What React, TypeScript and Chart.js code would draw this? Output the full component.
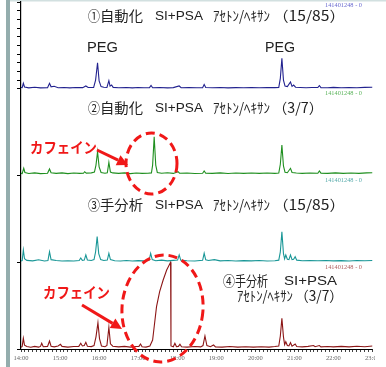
import React, { useEffect, useRef } from "react";
import { Chart, registerables } from "chart.js";

Chart.register(...registerables);

// ---- Data (retention time in minutes, signal in % of one trace band) ----
const hourLabels = ["14:00", "15:00", "16:00", "17:00", "18:00", "19:00", "20:00", "21:00", "22:00", "23:00"];

const autoA_time = [14.0, 14.03, 14.06, 14.09, 14.2, 14.35, 14.5, 14.68, 14.73, 14.77, 14.85, 14.95, 15.1, 15.25, 15.4, 15.58, 15.66, 15.72, 15.86, 15.91, 15.96, 16.0, 16.05, 16.12, 16.2, 16.25, 16.28, 16.32, 16.36, 16.5, 16.7, 16.85, 17.0, 17.15, 17.29, 17.33, 17.37, 17.55, 17.75, 17.9, 18.05, 18.1, 18.3, 18.5, 18.65, 18.69, 18.73, 18.9, 19.1, 19.3, 19.5, 19.7, 19.9, 20.1, 20.3, 20.5, 20.6, 20.64, 20.68, 20.72, 20.76, 20.82, 20.9, 20.94, 20.98, 21.03, 21.15, 21.3, 21.45, 21.6, 21.64, 21.68, 21.85, 22.0, 22.2, 22.4, 22.6, 22.8, 23.0];
const autoA_signal = [1.5, 1.2, 6.3, 2.0, 1.0, 1.8, 1.0, 1.2, 6.3, 2.2, 2.8, 1.2, 1.5, 1.0, 1.4, 1.3, 3.2, 1.5, 1.6, 10.0, 30.0, 9.0, 2.5, 1.8, 1.5, 9.3, 3.0, 4.3, 1.6, 1.2, 1.5, 1.0, 1.4, 1.2, 1.3, 3.7, 1.2, 1.4, 1.0, 1.3, 3.2, 1.2, 1.5, 1.1, 1.3, 4.9, 1.5, 1.2, 1.4, 1.0, 1.3, 1.1, 1.4, 1.2, 1.5, 1.3, 1.6, 12.0, 35.1, 10.0, 3.0, 2.5, 7.8, 2.8, 4.3, 1.8, 1.5, 1.2, 1.5, 1.4, 3.7, 1.3, 1.2, 1.6, 1.2, 1.5, 1.1, 1.6, 1.8];

const autoB_time = [14.0, 14.03, 14.07, 14.1, 14.2, 14.35, 14.5, 14.68, 14.73, 14.77, 14.9, 15.05, 15.2, 15.35, 15.5, 15.6, 15.63, 15.67, 15.8, 15.88, 15.92, 15.96, 16.0, 16.05, 16.15, 16.21, 16.25, 16.29, 16.35, 16.5, 16.65, 16.8, 16.95, 17.1, 17.25, 17.34, 17.37, 17.41, 17.45, 17.49, 17.6, 17.75, 17.9, 18.02, 18.06, 18.25, 18.45, 18.65, 18.69, 18.73, 18.9, 19.1, 19.3, 19.5, 19.7, 19.9, 20.1, 20.3, 20.5, 20.6, 20.64, 20.68, 20.72, 20.76, 20.82, 20.9, 20.94, 21.05, 21.2, 21.4, 21.6, 21.64, 21.68, 21.85, 22.05, 22.25, 22.45, 22.65, 22.85, 23.0];
const autoB_signal = [2.5, 2.2, 8.3, 3.5, 2.3, 3.0, 2.2, 2.5, 7.5, 3.2, 2.4, 3.0, 2.2, 2.8, 2.4, 2.6, 4.4, 2.8, 3.0, 4.0, 12.0, 27.4, 10.0, 3.5, 2.6, 3.2, 15.2, 4.0, 3.0, 2.4, 3.0, 2.2, 2.8, 2.4, 2.6, 3.0, 12.0, 44.7, 12.0, 3.5, 2.6, 3.2, 2.4, 4.4, 2.6, 2.8, 2.3, 2.6, 5.2, 2.6, 2.4, 3.0, 2.3, 2.8, 2.4, 2.9, 2.4, 2.8, 2.5, 2.9, 13.0, 35.2, 11.0, 3.8, 3.2, 8.3, 3.5, 2.8, 2.5, 2.8, 2.6, 5.2, 2.7, 2.5, 3.0, 2.4, 2.9, 2.5, 3.0, 3.2];

const manualA_time = [14.0, 14.03, 14.06, 14.09, 14.15, 14.3, 14.45, 14.6, 14.69, 14.73, 14.77, 14.9, 15.05, 15.2, 15.35, 15.49, 15.53, 15.57, 15.62, 15.66, 15.7, 15.8, 15.87, 15.91, 15.95, 15.99, 16.04, 16.12, 16.21, 16.25, 16.29, 16.4, 16.55, 16.7, 16.85, 17.0, 17.15, 17.28, 17.32, 17.36, 17.45, 17.6, 17.75, 17.9, 18.01, 18.05, 18.09, 18.25, 18.45, 18.65, 18.69, 18.73, 18.8, 18.95, 19.1, 19.3, 19.5, 19.7, 19.9, 20.1, 20.3, 20.5, 20.6, 20.64, 20.68, 20.72, 20.75, 20.78, 20.82, 20.86, 20.9, 20.94, 20.98, 21.02, 21.06, 21.2, 21.4, 21.6, 21.8, 22.0, 22.2, 22.4, 22.6, 22.8, 23.0];
const manualA_signal = [1.5, 2.0, 14.1, 4.0, 2.2, 1.6, 2.8, 1.5, 2.0, 12.2, 3.0, 2.0, 1.5, 1.8, 1.4, 2.0, 4.9, 2.2, 2.5, 8.4, 2.6, 2.0, 3.0, 12.0, 29.5, 10.0, 3.0, 2.0, 2.5, 10.3, 3.0, 1.8, 1.5, 2.0, 1.5, 1.9, 1.6, 2.2, 10.3, 3.0, 1.8, 2.4, 1.6, 2.2, 2.5, 8.4, 2.4, 1.8, 1.5, 2.2, 10.3, 2.8, 2.0, 3.0, 1.6, 2.0, 1.5, 1.9, 1.6, 2.0, 1.5, 1.8, 2.4, 12.0, 35.2, 10.0, 4.0, 8.4, 3.5, 3.0, 8.4, 3.0, 3.5, 6.4, 2.4, 1.8, 2.0, 1.7, 2.0, 1.6, 1.9, 1.5, 2.0, 1.7, 2.0];

const manualB_time = [14.0, 14.03, 14.06, 14.09, 14.15, 14.25, 14.35, 14.45, 14.5, 14.53, 14.57, 14.68, 14.73, 14.77, 14.85, 14.95, 15.01, 15.05, 15.2, 15.35, 15.48, 15.53, 15.57, 15.62, 15.66, 15.7, 15.8, 15.87, 15.92, 15.97, 16.01, 16.06, 16.15, 16.2, 16.25, 16.29, 16.35, 16.5, 16.65, 16.8, 16.95, 17.02, 17.06, 17.1, 17.2, 17.3, 17.37, 17.41, 17.47, 17.55, 17.64, 17.73, 17.83, 17.84, 17.9, 17.94, 17.98, 18.03, 18.07, 18.11, 18.25, 18.45, 18.6, 18.66, 18.71, 18.76, 18.85, 18.93, 18.98, 19.15, 19.35, 19.55, 19.75, 19.95, 20.15, 20.35, 20.5, 20.6, 20.64, 20.68, 20.72, 20.75, 20.78, 20.82, 20.86, 20.9, 20.94, 21.02, 21.06, 21.2, 21.35, 21.49, 21.53, 21.64, 21.68, 21.85, 22.0, 22.2, 22.4, 22.6, 22.8, 23.0];
const manualB_signal = [2.0, 3.0, 12.3, 4.5, 2.8, 2.0, 3.0, 2.2, 3.0, 6.6, 2.6, 3.0, 9.2, 3.2, 2.5, 3.5, 5.4, 3.0, 2.2, 2.8, 3.0, 6.6, 3.5, 4.0, 7.7, 3.2, 2.8, 4.0, 14.0, 30.3, 12.0, 3.5, 2.6, 4.0, 25.0, 6.0, 3.2, 2.4, 3.0, 2.2, 2.8, 3.0, 5.8, 2.5, 2.2, 3.5, 10.4, 25.7, 48.8, 66.1, 79.5, 91.1, 99.9, 3.5, 2.6, 6.6, 2.8, 3.0, 5.4, 2.6, 2.2, 2.8, 2.4, 4.0, 15.0, 4.0, 2.6, 4.6, 2.4, 2.2, 2.8, 2.2, 2.6, 2.2, 2.6, 2.2, 2.8, 3.5, 15.0, 35.4, 14.0, 5.0, 8.4, 4.0, 3.5, 7.3, 3.2, 5.8, 2.8, 2.4, 3.0, 4.0, 2.6, 4.0, 2.5, 2.8, 2.4, 3.0, 2.5, 3.2, 2.6, 3.5];

const runId = "141401248 - 0";

// ---- Styles / layout ----
const traceColors = ["#22228f", "#1f8f1f", "#1a9797", "#8c1616"];
const idColors = ["#6a6ad0", "#5cb45c", "#58abab", "#b06060"];
const traceBands = [3, 2, 1, 0];
const RED = "#f01818";
const JP = "'Noto Sans CJK JP', sans-serif";
const LAT = "'Liberation Sans', Arial, sans-serif";

function fitText(ctx: CanvasRenderingContext2D, text: string, x: number, cy: number, w: number, font: string, color: string) {
  ctx.save();
  ctx.font = font;
  ctx.fillStyle = color;
  ctx.textBaseline = "middle";
  ctx.textAlign = "left";
  const m = ctx.measureText(text).width || 1;
  ctx.translate(x, cy);
  ctx.scale(w / m, 1);
  ctx.fillText(text, 0, 0);
  ctx.restore();
}

function arrow(ctx: CanvasRenderingContext2D, x1: number, y1: number, x2: number, y2: number) {
  const a = Math.atan2(y2 - y1, x2 - x1);
  const hl = 11, hw = 5.5;
  const bx = x2 - hl * Math.cos(a), by = y2 - hl * Math.sin(a);
  ctx.save();
  ctx.strokeStyle = RED;
  ctx.fillStyle = RED;
  ctx.lineWidth = 3;
  ctx.beginPath();
  ctx.moveTo(x1, y1);
  ctx.lineTo(bx, by);
  ctx.stroke();
  ctx.beginPath();
  ctx.moveTo(x2, y2);
  ctx.lineTo(bx + hw * Math.sin(a), by - hw * Math.cos(a));
  ctx.lineTo(bx - hw * Math.sin(a), by + hw * Math.cos(a));
  ctx.closePath();
  ctx.fill();
  ctx.restore();
}

function dashedEllipse(ctx: CanvasRenderingContext2D, cx: number, cy: number, rx: number, ry: number, rot: number) {
  ctx.save();
  ctx.strokeStyle = RED;
  ctx.lineWidth = 3;
  ctx.setLineDash([9, 5]);
  ctx.beginPath();
  ctx.ellipse(cx, cy, rx, ry, rot, 0, Math.PI * 2);
  ctx.stroke();
  ctx.restore();
}

const framePlugin = {
  id: "frame",
  beforeDraw(chart: any) {
    const ctx = chart.ctx as CanvasRenderingContext2D;
    ctx.save();
    ctx.fillStyle = "#ffffff";
    ctx.fillRect(0, 0, chart.width, chart.height);
    ctx.fillStyle = "#94adad";
    ctx.fillRect(6, 0, 4, chart.height);
    ctx.fillStyle = "#d2e0e0";
    ctx.fillRect(10, 0, chart.width - 10, 1.5);
    ctx.restore();
  },
  afterDraw(chart: any) {
    const ctx = chart.ctx as CanvasRenderingContext2D;
    // mask beyond the cropped right edge
    ctx.save();
    ctx.fillStyle = "#ffffff";
    ctx.fillRect(375, 2, chart.width - 375, chart.height - 2);
    ctx.restore();

    const f14 = `14px ${JP}`;
    const txt = "#222222";
    // run ids
    const idY = [5, 93, 180, 267];
    idY.forEach((y, i) => fitText(ctx, runId, 325, y, 37, `6px 'Liberation Serif', serif`, idColors[i]));

    // titles
    fitText(ctx, "①", 88, 16, 12, f14, txt);
    fitText(ctx, "自動化", 100, 16, 43, f14, txt);
    fitText(ctx, "SI+PSA", 155, 16, 48, `13px ${LAT}`, txt);
    fitText(ctx, "ｱｾﾄﾝ/ﾍｷｻﾝ", 213, 16, 57, f14, txt);
    fitText(ctx, "（15/85）", 273, 16, 72, f14, txt);

    fitText(ctx, "PEG", 87, 48, 31, `15px ${LAT}`, txt);
    fitText(ctx, "PEG", 265, 48, 30, `15px ${LAT}`, txt);

    fitText(ctx, "②", 88, 108, 12, f14, txt);
    fitText(ctx, "自動化", 100, 108, 43, f14, txt);
    fitText(ctx, "SI+PSA", 155, 108, 48, `13px ${LAT}`, txt);
    fitText(ctx, "ｱｾﾄﾝ/ﾍｷｻﾝ", 213, 108, 57, f14, txt);
    fitText(ctx, "（3/7）", 273, 108, 50, f14, txt);

    fitText(ctx, "③", 88, 205, 12, f14, txt);
    fitText(ctx, "手分析", 100, 205, 43, f14, txt);
    fitText(ctx, "SI+PSA", 155, 205, 48, `13px ${LAT}`, txt);
    fitText(ctx, "ｱｾﾄﾝ/ﾍｷｻﾝ", 213, 205, 57, f14, txt);
    fitText(ctx, "（15/85）", 273, 205, 72, f14, txt);

    fitText(ctx, "④", 223, 281, 12, f14, txt);
    fitText(ctx, "手分析", 235, 281, 33, f14, txt);
    fitText(ctx, "SI+PSA", 284, 281, 53, `13px ${LAT}`, txt);
    fitText(ctx, "ｱｾﾄﾝ/ﾍｷｻﾝ", 237, 296, 56, f14, txt);
    fitText(ctx, "（3/7）", 295, 296, 48, f14, txt);

    // caffeine annotations
    fitText(ctx, "カフェイン", 30, 147, 67, `bold 15px ${JP}`, RED);
    fitText(ctx, "カフェイン", 43, 292, 67, `bold 15px ${JP}`, RED);
    arrow(ctx, 97, 150, 128, 165);
    arrow(ctx, 82, 305, 122, 329);
    dashedEllipse(ctx, 151.5, 163.5, 25.5, 30.5, 0);
    dashedEllipse(ctx, 162.5, 308.5, 40.5, 53.5, 0.08);
  },
};

function toPoints(times: number[], signal: number[], band: number) {
  return times.map((t, i) => ({ x: t, y: band + signal[i] / 100 }));
}

export default function App() {
  const ref = useRef<HTMLCanvasElement | null>(null);

  useEffect(() => {
    document.body.style.margin = "0";
    const canvas = ref.current;
    if (!canvas) return;
    const series = [
      [autoA_time, autoA_signal],
      [autoB_time, autoB_signal],
      [manualA_time, manualA_signal],
      [manualB_time, manualB_signal],
    ];
    const chart = new Chart(canvas, {
      type: "line",
      data: {
        datasets: series.map(([t, s], i) => ({
          data: toPoints(t, s, traceBands[i]),
          borderColor: traceColors[i],
          borderWidth: 1.1,
          pointRadius: 0,
          tension: 0,
          fill: false,
        })),
      },
      options: {
        responsive: false,
        animation: false,
        devicePixelRatio: 1,
        parsing: false as any,
        layout: { padding: { left: 15, top: 2, right: 13.5, bottom: 0 } },
        plugins: { legend: { display: false }, tooltip: { enabled: false } },
        scales: {
          x: {
            type: "linear",
            min: 14,
            max: 23,
            afterFit: (scale: any) => {
              scale.height = 18;
            },
            border: { display: true, color: "#000", width: 1 },
            grid: { display: true, drawOnChartArea: false, drawTicks: true, tickLength: 3, color: "#111", lineWidth: 0.8 },
            ticks: {
              stepSize: 0.1,
              autoSkip: false,
              maxRotation: 0,
              minRotation: 0,
              padding: 2,
              color: "#666",
              font: { family: "'Liberation Serif', serif", size: 6.5 },
              callback: (v: any) => {
                const n = Number(v);
                if (Math.abs(n - Math.round(n)) < 1e-6) return hourLabels[Math.round(n) - 14] ?? "";
                return "";
              },
            },
          },
          y: {
            type: "linear",
            min: 0,
            max: 4,
            afterFit: (scale: any) => {
              scale.width = 6;
            },
            border: { display: true, color: "#000", width: 1.2 },
            grid: {
              display: true,
              drawOnChartArea: false,
              drawTicks: true,
              tickLength: 4,
              color: (c: any) => {
                const v = c.tick ? c.tick.value : 0;
                const isMajor = Math.abs(v - Math.round(v)) < 1e-6;
                return isMajor || v > 2.99 ? "#000" : "rgba(0,0,0,0)";
              },
              lineWidth: 1,
            },
            ticks: { display: false, stepSize: 0.1, autoSkip: false },
          },
        },
      },
      plugins: [framePlugin],
    });
    return () => chart.destroy();
  }, []);

  return (
    <div style={{ position: "absolute", left: 0, top: 0, width: 386, height: 367 }}>
      <canvas ref={ref} width={386} height={367} />
    </div>
  );
}
